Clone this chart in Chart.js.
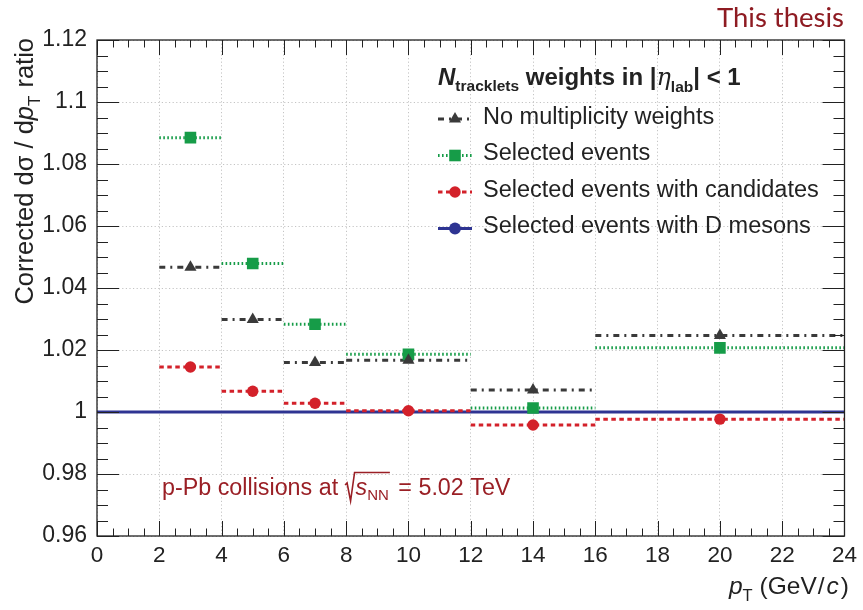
<!DOCTYPE html>
<html>
<head>
<meta charset="utf-8">
<script src="https://cdn.jsdelivr.net/npm/chart.js@4.4.1/dist/chart.umd.min.js"></script>
<style>
html,body{margin:0;padding:0;background:#fff;}
#wrap{width:863px;height:610px;position:relative;}
</style>
</head>
<body>
<div id="wrap"><canvas id="c" width="863" height="610"></canvas></div>
<script>
// ---- data ----
const binLo = [2, 4, 6, 8, 12, 16];
const binHi = [4, 6, 8, 12, 16, 24];
const binCenter = [3, 5, 7, 10, 14, 20];
const noWeights = [1.0467, 1.0298, 1.0160, 1.0167, 1.0071, 1.0247];
const selEvents = [1.0885, 1.0479, 1.0283, 1.0186, 1.0013, 1.0207];
const selCandidates = [1.0145, 1.0067, 1.0028, 1.0004, 0.9958, 0.9977];
const dMesonsX = [0, 24];
const dMesonsY = [1, 1];
const seriesNames = ["No multiplicity weights", "Selected events", "Selected events with candidates", "Selected events with D mesons"];
const xTicks = [0, 2, 4, 6, 8, 10, 12, 14, 16, 18, 20, 22, 24];
const yTickLabels = ["0.96", "0.98", "1", "1.02", "1.04", "1.06", "1.08", "1.1", "1.12"];

const SANS = '"Liberation Sans", Arial, Helvetica, sans-serif';
const C_BLACK = '#3a3a3a', C_GREEN = '#169c48', C_RED = '#d3212a', C_BLUE = '#2e3492', C_DRED = '#9a1f25';
const styles = [
  {color: C_BLACK, dash: [6, 5, 2, 5], width: 3, point: 'triangle', r: 7},
  {color: C_GREEN, dash: [1.6, 2.4], width: 3, point: 'rect', r: 8.2},
  {color: C_RED, dash: [4.5, 3.5], width: 3, point: 'circle', r: 5.7},
  {color: C_BLUE, dash: [], width: 3.2, point: 'circle', r: 5.9}
];

function segData(vals) {
  const d = [];
  vals.forEach((v, i) => {
    d.push({x: binLo[i], y: v});
    d.push({x: binHi[i], y: v});
    d.push({x: binHi[i], y: null});
  });
  return d;
}
function ptData(vals) { return vals.map((v, i) => ({x: binCenter[i], y: v})); }

const series = [noWeights, selEvents, selCandidates];
const datasets = [];
datasets.push({
  label: seriesNames[3], data: dMesonsX.map((x, i) => ({x, y: dMesonsY[i]})),
  borderColor: C_BLUE, borderWidth: 3.2, pointRadius: 0, order: 10, fill: false
});
series.forEach((vals, k) => {
  const s = styles[k];
  datasets.push({
    label: seriesNames[k], data: segData(vals), borderColor: s.color, borderWidth: s.width,
    borderDash: s.dash, pointRadius: 0, spanGaps: false, order: 5 - k, fill: false, borderCapStyle: 'butt'
  });
});
series.forEach((vals, k) => {
  const s = styles[k];
  datasets.push({
    label: seriesNames[k] + ' markers', data: ptData(vals), showLine: false,
    pointStyle: s.point, pointRadius: s.r, pointHoverRadius: s.r,
    pointBackgroundColor: s.color, pointBorderColor: s.color, pointBorderWidth: 0, order: 1
  });
});

function drawRich(ctx, x, y, parts) {
  let cx = x;
  parts.forEach(p => {
    ctx.font = p.font;
    ctx.fillStyle = p.color || ctx.fillStyle;
    ctx.fillText(p.t, cx, y + (p.dy || 0));
    cx += ctx.measureText(p.t).width + (p.sp || 0);
  });
  return cx;
}
function richWidth(ctx, parts) {
  let w = 0;
  parts.forEach(p => { ctx.font = p.font; w += ctx.measureText(p.t).width + (p.sp || 0); });
  return w;
}
function marker(ctx, style, x, y, r, color) {
  ctx.fillStyle = color;
  ctx.beginPath();
  if (style === 'triangle') {
    for (let i = 0; i < 3; i++) {
      const a = i * 2 * Math.PI / 3;
      const px = x + Math.sin(a) * r, py = y - Math.cos(a) * r;
      if (i === 0) ctx.moveTo(px, py); else ctx.lineTo(px, py);
    }
    ctx.closePath();
  } else if (style === 'rect') {
    const s = Math.SQRT1_2 * r;
    ctx.rect(x - s, y - s, 2 * s, 2 * s);
  } else {
    ctx.arc(x, y, r, 0, Math.PI * 2);
  }
  ctx.fill();
}

const decor = {
  id: 'decor',
  afterDatasetsDraw(chart) {
    const ctx = chart.ctx;
    const a = chart.chartArea;
    const xs = chart.scales.x, ys = chart.scales.y;
    ctx.save();
    // frame
    ctx.strokeStyle = '#222';
    ctx.lineWidth = 1.3;
    ctx.setLineDash([]);
    ctx.strokeRect(a.left, a.top, a.right - a.left, a.bottom - a.top);
    // ticks inside on all sides
    ctx.lineWidth = 1;
    const yMajorLen = 22, yMinorLen = 11, xMajorLen = 15, xMinorLen = 7.5;
    ctx.beginPath();
    for (let i = 0; i <= 32; i++) {
      const v = 0.96 + i * 0.005;
      const py = Math.round(ys.getPixelForValue(v)) + 0.5;
      const L = (i % 4 === 0) ? yMajorLen : yMinorLen;
      ctx.moveTo(a.left, py); ctx.lineTo(a.left + L, py);
      ctx.moveTo(a.right, py); ctx.lineTo(a.right - L, py);
    }
    for (let i = 0; i <= 48; i++) {
      const v = i * 0.5;
      const px = Math.round(xs.getPixelForValue(v)) + 0.5;
      const L = (i % 4 === 0) ? xMajorLen : xMinorLen;
      ctx.moveTo(px, a.bottom); ctx.lineTo(px, a.bottom - L);
      ctx.moveTo(px, a.top); ctx.lineTo(px, a.top + L);
    }
    ctx.stroke();

    // legend
    ctx.fillStyle = '#222';
    ctx.textBaseline = 'alphabetic';
    ctx.textAlign = 'left';
    drawRich(ctx, 438, 85, [
      {t: 'N', font: 'italic bold 24px ' + SANS, color: '#222'},
      {t: 'tracklets', font: 'bold 15.5px ' + SANS, dy: 6},
      {t: ' weights in |', font: 'bold 24px ' + SANS},
      {t: 'η', font: 'italic 24px "DejaVu Serif", "Liberation Serif", serif'},
      {t: 'lab', font: 'bold 15.5px ' + SANS, dy: 7},
      {t: '| < 1', font: 'bold 24px ' + SANS}
    ]);
    [0, 1, 2, 3].forEach((k, i) => {
      const yy = 119 + i * 36.5;
      const s = styles[k];
      ctx.strokeStyle = s.color;
      ctx.lineWidth = s.width;
      ctx.setLineDash(s.dash);
      ctx.beginPath();
      ctx.moveTo(438, yy); ctx.lineTo(472, yy);
      ctx.stroke();
      ctx.setLineDash([]);
      marker(ctx, s.point, 455, yy, s.r, s.color);
      ctx.fillStyle = '#222';
      ctx.font = '23.5px ' + SANS;
      ctx.fillText(seriesNames[k], 483, yy + 4.5);
    });

    // collision label
    ctx.fillStyle = C_DRED;
    let cx = drawRich(ctx, 162, 495, [{t: 'p-Pb collisions at ', font: '23.3px ' + SANS, color: C_DRED}]);
    ctx.strokeStyle = C_DRED;
    ctx.lineWidth = 1.6;
    ctx.beginPath();
    ctx.moveTo(cx + 0.5, 485);
    ctx.lineTo(cx + 2.5, 483);
    ctx.lineTo(cx + 6, 501);
    ctx.lineTo(cx + 10, 472.5);
    cx = drawRich(ctx, cx + 11, 495, [
      {t: 's', font: 'italic 23.3px ' + SANS, color: C_DRED},
      {t: 'NN', font: '15px ' + SANS, dy: 5}
    ]);
    ctx.lineTo(cx + 1, 472.5);
    ctx.stroke();
    drawRich(ctx, cx + 3, 495, [{t: ' = 5.02 TeV', font: '23.3px ' + SANS, color: C_DRED}]);

    // This thesis
    ctx.font = '26px Lato, "DejaVu Sans", sans-serif';
    const tw = ctx.measureText('This thesis').width;
    const fs = 26 * 127 / tw;
    ctx.font = fs.toFixed(1) + 'px Lato, "DejaVu Sans", sans-serif';
    ctx.textAlign = 'right';
    ctx.fillStyle = '#8e1b22';
    ctx.fillText('This thesis', 844, 27);
    ctx.textAlign = 'left';

    // x title
    const xt = [
      {t: 'p', font: 'italic 24.5px ' + SANS, color: '#222'},
      {t: 'T', font: '16.5px ' + SANS, dy: 7, sp: 7},
      {t: '(GeV', font: '24.5px ' + SANS, sp: 1},
      {t: '/', font: '24.5px ' + SANS, sp: 2},
      {t: 'c', font: 'italic 24.5px ' + SANS, sp: 2},
      {t: ')', font: '24.5px ' + SANS}
    ];
    ctx.fillStyle = '#222';
    drawRich(ctx, 849 - richWidth(ctx, xt), 594, xt);

    // y title
    const yt = [
      {t: 'Corrected d', font: '25.5px ' + SANS, color: '#222'},
      {t: 'σ', font: '25.5px ' + SANS},
      {t: ' / d', font: '25.5px ' + SANS},
      {t: 'p', font: 'italic 25.5px ' + SANS},
      {t: 'T', font: '17px ' + SANS, dy: 7, sp: 8},
      {t: 'ratio', font: '25.5px ' + SANS}
    ];
    ctx.save();
    ctx.translate(33, 38);
    ctx.rotate(-Math.PI / 2);
    drawRich(ctx, -richWidth(ctx, yt), 0, yt);
    ctx.restore();

    ctx.restore();
  }
};

new Chart(document.getElementById('c'), {
  type: 'line',
  data: {datasets},
  options: {
    responsive: false,
    animation: false,
    events: [],
    layout: {padding: {top: 40, right: 15, left: 0, bottom: 0}},
    plugins: {legend: {display: false}, tooltip: {enabled: false}},
    scales: {
      x: {
        type: 'linear', min: 0, max: 24,
        afterBuildTicks(s) { s.ticks = xTicks.map(v => ({value: v})); },
        afterFit(s) { s.height = 74; },
        ticks: {color: '#222', font: {family: SANS, size: 22.5}, padding: 6, maxRotation: 0, autoSkip: false},
        grid: {color: '#c4c4c4', lineWidth: 1, drawTicks: false},
        border: {display: false, dash: [1.2, 2.4]}
      },
      y: {
        type: 'linear', min: 0.96, max: 1.12,
        afterBuildTicks(s) { s.ticks = yTickLabels.map(t => ({value: parseFloat(t)})); },
        afterFit(s) { s.width = 97; },
        ticks: {
          color: '#222', font: {family: SANS, size: 23}, padding: 10,
          callback: (v) => { const i = yTickLabels.findIndex(t => Math.abs(parseFloat(t) - v) < 1e-6); return i >= 0 ? yTickLabels[i] : ''; }
        },
        grid: {color: '#c4c4c4', lineWidth: 1, drawTicks: false},
        border: {display: false, dash: [1.2, 2.4]}
      }
    }
  },
  plugins: [decor]
});
</script>
</body>
</html>
